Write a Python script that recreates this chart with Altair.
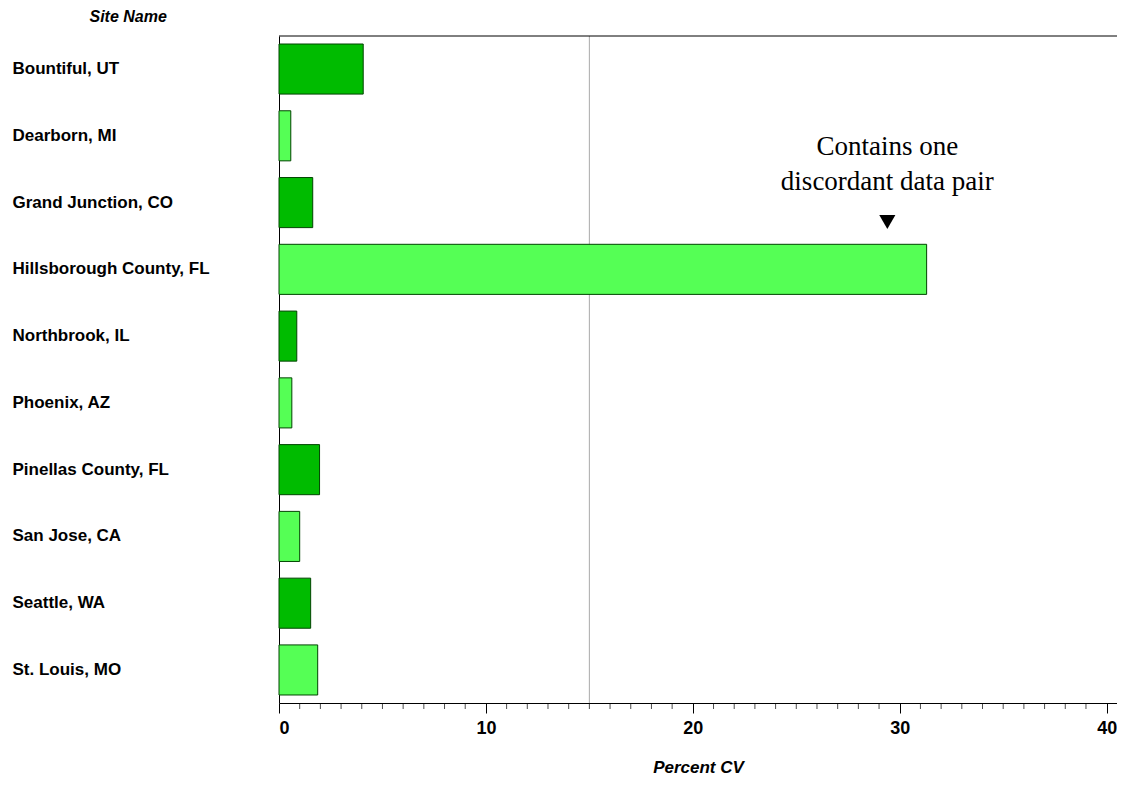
import altair as alt
import pandas as pd

sites = ["Bountiful, UT", "Dearborn, MI", "Grand Junction, CO", "Hillsborough County, FL",
         "Northbrook, IL", "Phoenix, AZ", "Pinellas County, FL", "San Jose, CA",
         "Seattle, WA", "St. Louis, MO"]
cv = [4.07, 0.57, 1.63, 31.3, 0.86, 0.62, 1.96, 1.0, 1.53, 1.87]
shade = ["dark", "light"] * 5

df = pd.DataFrame({"site": sites, "cv": cv, "shade": shade})

W, H = 838, 667
xs = alt.Scale(domain=[0, 40.5], nice=False)

bars = alt.Chart(df).mark_bar(stroke="#004400", strokeWidth=1).encode(
    x=alt.X("cv:Q", scale=xs,
            axis=alt.Axis(values=[0, 10, 20, 30, 40], grid=False, domainColor="black",
                          tickColor="black", tickSize=10, labelFont="Liberation Sans",
                          labelFontWeight="bold", labelFontSize=18, labelColor="black",
                          labelPadding=6, title="Percent CV", titleFont="Liberation Sans",
                          titleFontStyle="italic", titleFontWeight="bold", titleFontSize=17,
                          titlePadding=22)),
    y=alt.Y("site:N", sort=sites, scale=alt.Scale(paddingInner=0.25, paddingOuter=0.12),
            axis=alt.Axis(domain=True, domainColor="black", ticks=False, labelAlign="left",
                          labelPadding=267, labelLimit=270, labelFont="Liberation Sans",
                          labelFontWeight="bold", labelFontSize=17, labelColor="black",
                          title="Site Name", titleAngle=0, titleX=-190, titleY=-12,
                          titleAlign="left", titleFont="Liberation Sans", titleFontStyle="italic",
                          titleFontWeight="bold", titleFontSize=16)),
    color=alt.Color("shade:N", scale=alt.Scale(domain=["dark", "light"],
                                               range=["#00bb00", "#55ff55"]), legend=None),
)

minor = alt.Chart(pd.DataFrame({"m": [i for i in range(41) if i % 10]})).mark_tick(
    color="black", orient="vertical", size=6, thickness=1).encode(
    x=alt.X("m:Q", scale=xs), y=alt.value(H + 3))

ref = alt.Chart(pd.DataFrame({"v": [15]})).mark_rule(color="#aaaaaa").encode(
    x=alt.X("v:Q", scale=xs))

top = alt.Chart(pd.DataFrame({"a": [0]})).mark_rule(color="black").encode(
    x=alt.value(0), x2=alt.value(W), y=alt.value(0))

note = alt.Chart(pd.DataFrame({"x": [29.4], "t": [["Contains one", "discordant data pair"]]})).mark_text(
    font="Liberation Serif", fontSize=27, lineHeight=35, baseline="top", color="black").encode(
    x=alt.X("x:Q", scale=xs), y=alt.value(98), text="t")

tri = alt.Chart(pd.DataFrame({"x": [29.4]})).mark_point(
    shape="triangle-down", filled=True, color="black", size=260, opacity=1).encode(
    x=alt.X("x:Q", scale=xs), y=alt.value(186))

chart = alt.layer(ref, bars, minor, top, note, tri).properties(
    width=W, height=H, autosize=alt.AutoSizeParams(type="none"),
    padding={"left": 271, "top": 28, "right": 0, "bottom": 74}
).configure_view(stroke=None)

chart.save("out.html", embed_options={"renderer": "svg", "actions": False})
